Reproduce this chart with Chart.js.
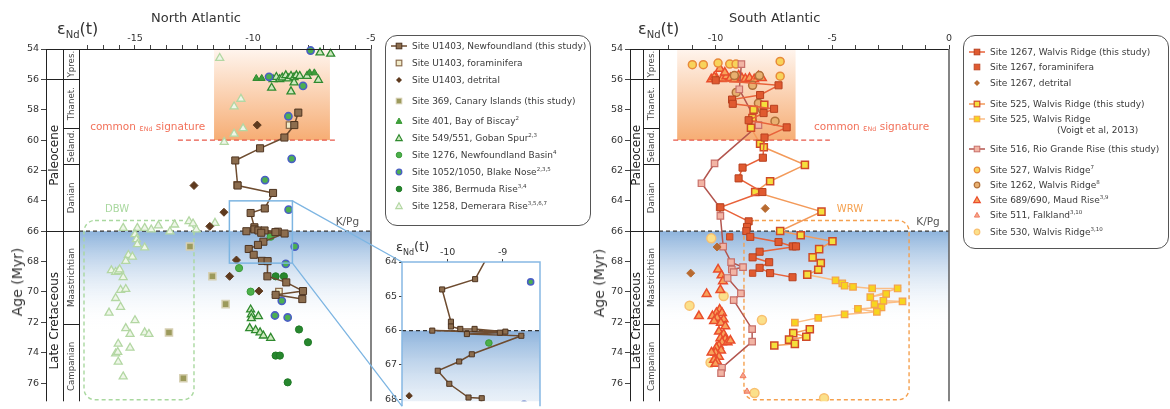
<!DOCTYPE html>
<html>
<head>
<meta charset="utf-8">
<script src="https://cdn.jsdelivr.net/npm/chart.js@4.4.0/dist/chart.umd.min.js"></script>
<style>
body { margin: 0; background: #fff; font-family: "DejaVu Sans", sans-serif; color: #333; }
#page { position: relative; width: 1170px; height: 409px; overflow: hidden; }
canvas { position: absolute; }
.txt { position: absolute; white-space: nowrap; }
.legend { position: absolute; border: 1px solid #555; border-radius: 12px; }
.row { position: absolute; white-space: nowrap; font-size: 9px; line-height: 10px; color: #3a3a3a; }
.row svg { position: absolute; left: -22px; top: 0; }
.row sup { font-size: 5.5px; vertical-align: 4px; line-height: 0; }
</style>
</head>
<body>
<div id="page">
  <canvas id="na" width="380" height="409" style="left:0;top:0"></canvas>
  <canvas id="inset" width="180" height="179" style="left:370px;top:230px"></canvas>
  <canvas id="sa" width="386" height="409" style="left:584px;top:0"></canvas>
  <canvas id="overlay" width="1170" height="409" style="left:0;top:0;pointer-events:none"></canvas>

  <div class="txt" style="left:151px;top:10px;font-size:13px">North Atlantic</div>
  <div class="txt" style="left:729px;top:10px;font-size:13px">South Atlantic</div>
  <div class="txt" style="left:57px;top:19px;font-size:16px">ε<sub style="font-size:10px">Nd</sub>(t)</div>
  <div class="txt" style="left:638px;top:19px;font-size:16px">ε<sub style="font-size:10px">Nd</sub>(t)</div>
  <div class="txt" style="left:396px;top:239px;font-size:13px">ε<sub style="font-size:8px">Nd</sub>(t)</div>
  <div class="txt" style="left:17px;top:282px;font-size:14px;transform:translate(-50%,-50%) rotate(-90deg)">Age (Myr)</div>
  <div class="txt" style="left:599px;top:283px;font-size:14px;transform:translate(-50%,-50%) rotate(-90deg)">Age (Myr)</div>

  <div class="legend" id="legNA" style="left:385px;top:35px;width:204px;height:189px"></div>
  <div class="legend" id="legSA" style="left:963px;top:35px;width:204px;height:212px"></div>
</div>

<script>
// ---------- North Atlantic (age in Myr, eNd(t)) ----------
const u1403Age = [58.19, 59.01, 59.83, 60.54, 61.34, 62.99, 63.48, 64.5, 64.8, 65.74, 65.88, 65.95, 65.95, 66.03, 66.0, 66.06, 66.1, 66.15, 66.69, 66.9, 67.17, 67.55, 67.95, 67.97, 68.97, 69.37, 69.94, 70.19, 70.47];
const u1403Nd = [-8.08, -8.25, -8.67, -9.7, -10.75, -10.65, -9.15, -9.5, -10.1, -9.94, -9.94, -9.77, -9.51, -8.95, -10.28, -9.05, -9.65, -8.66, -9.56, -9.79, -10.18, -9.97, -9.62, -9.38, -9.39, -8.59, -7.88, -9.04, -7.91];
const foramAge = [59.01, 62.95, 69.98];
const foramNd = [-8.45, -10.67, -8.9];
const detritalAge = [59.01, 62.99, 64.75, 65.68, 67.9, 68.97, 69.94];
const detritalNd = [-9.82, -12.5, -11.23, -11.83, -10.7, -10.99, -9.75];
const s369Age = [67.01, 68.97, 70.8, 72.67, 75.68];
const s369Nd = [-12.67, -11.72, -11.16, -13.56, -12.95];
const s401Age = [55.94, 55.94, 55.57, 55.57];
const s401Nd = [-9.86, -9.63, -7.6, -7.4];
const s549Age = [54.24, 54.32, 56.0, 55.85, 56.0, 55.89, 55.74, 55.95, 55.78, 55.87, 55.74, 55.78, 55.78, 56.04, 56.21, 56.56, 56.8, 71.16, 71.48, 71.74, 71.6, 72.39, 72.52, 72.67, 72.88, 73.03];
const s549Nd = [-7.16, -6.71, -9.15, -9.01, -8.87, -8.76, -8.61, -8.5, -8.39, -8.26, -8.16, -8.02, -7.71, -7.23, -8.26, -9.21, -8.39, -10.1, -10.07, -10.07, -9.77, -10.14, -9.89, -9.7, -9.56, -9.25];
const s1276Age = [66.36, 68.43, 69.98];
const s1276Nd = [-9.25, -10.59, -10.1];
const s1052Age = [54.1, 55.83, 56.43, 58.43, 61.23, 62.63, 64.58, 67.01, 68.15, 70.58, 71.55, 71.68];
const s1052Nd = [-7.56, -9.32, -7.88, -8.5, -8.36, -9.49, -8.49, -8.23, -8.61, -8.78, -9.07, -8.53];
const s386Age = [68.97, 68.97, 72.47, 73.31, 74.19, 74.19, 75.95];
const s386Nd = [-9.04, -8.69, -8.05, -7.67, -9.04, -8.86, -8.53];
const s1258Age = [54.6, 57.29, 57.79, 59.23, 59.59, 60.13, 65.79, 65.79, 65.79, 65.89, 65.63, 66.02, 65.57, 65.35, 65.5, 65.89, 65.46, 66.21, 66.54, 66.86, 67.08, 67.57, 67.68, 67.96, 68.58, 68.69, 68.65, 68.52, 69.03, 69.87, 69.81, 70.41, 70.99, 71.37, 71.87, 72.39, 72.77, 72.67, 72.77, 73.42, 73.68, 74.06, 73.96, 74.6, 75.57];
const s1258Nd = [-11.41, -10.51, -10.8, -10.42, -10.8, -11.22, -15.5, -14.9, -14.59, -14.31, -14.01, -13.52, -13.32, -12.71, -12.54, -12.4, -11.61, -15.0, -14.94, -14.9, -14.59, -15.28, -15.11, -15.39, -16.0, -15.82, -15.71, -15.65, -15.5, -15.61, -15.39, -15.82, -15.61, -16.1, -15.0, -15.39, -15.21, -14.59, -14.41, -15.71, -15.21, -15.82, -15.73, -15.71, -15.5];

// ---------- South Atlantic ----------
const s1267Age = [56.06, 56.39, 57.03, 57.33, 57.61, 57.94, 58.22, 58.69, 59.16, 59.83, 61.16, 61.81, 62.52, 63.42, 64.43, 65.35, 65.72, 65.99, 66.37, 66.71, 67.0, 67.0, 67.35, 67.72, 68.04, 68.41, 68.76, 69.03];
const s1267Nd = [-9.99, -7.3, -8.09, -9.29, -9.26, -7.49, -7.94, -8.58, -6.95, -7.9, -7.97, -8.84, -9.01, -7.99, -9.79, -8.58, -8.65, -8.68, -8.51, -7.3, -6.69, -6.55, -8.11, -8.41, -7.7, -8.11, -7.66, -6.7];
const f1267Age = [66.37, 68.76];
const f1267Nd = [-9.39, -8.41];
const d1267Age = [64.5, 67.04, 68.76];
const d1267Nd = [-7.87, -9.93, -11.06];
const s525Age = [57.68, 58.0, 58.54, 59.19, 60.24, 60.47, 61.63, 62.71, 63.42, 64.71, 65.99, 66.26, 66.66, 67.18, 67.72, 68.09, 68.54, 68.86];
const s525Nd = [-7.91, -8.37, -8.42, -8.48, -8.09, -7.93, -6.17, -7.66, -8.3, -5.46, -7.23, -6.35, -4.99, -5.56, -5.84, -5.49, -5.6, -6.07];
const s525bAge = [72.45, 72.71, 72.95, 73.14, 73.42, 73.53];
const s525bNd = [-5.96, -6.67, -6.11, -6.85, -6.6, -7.48];
const voigtAge = [68.86, 69.23, 69.44, 69.59, 69.66, 69.77, 69.77, 70.34, 70.13, 70.58, 70.62, 70.8, 71.01, 71.12, 71.31, 71.48, 71.7, 72.02];
const voigtNd = [-6.07, -4.86, -4.57, -4.47, -4.11, -3.29, -2.2, -3.37, -2.69, -2.81, -1.99, -3.19, -2.89, -3.9, -3.09, -4.47, -5.6, -6.6];
const s516Age = [54.99, 56.65, 59.01, 61.53, 62.84, 64.43, 64.99, 67.01, 68.04, 68.37, 68.52, 68.69, 69.08, 70.09, 70.54, 72.45, 73.27, 74.99, 75.35];
const s516Nd = [-8.89, -8.98, -8.16, -10.04, -10.6, -9.82, -9.79, -9.67, -9.33, -8.82, -9.3, -9.22, -9.48, -8.91, -9.22, -8.43, -8.43, -9.72, -9.76];
const s527Age = [55.03, 55.03, 54.93, 54.99, 54.99, 54.82, 55.79];
const s527Nd = [-10.99, -10.52, -9.89, -9.39, -9.12, -7.23, -7.23];
const s1262Age = [55.75, 55.75, 56.39, 56.86, 57.57, 58.0, 58.75];
const s1262Nd = [-8.12, -9.19, -8.41, -9.11, -8.16, -7.99, -7.45];
const s689Age = [56.0, 55.91, 55.97, 55.8, 55.91, 56.0, 55.74, 55.91, 55.97, 55.91, 56.0, 55.8, 55.91, 55.3, 55.55, 55.85, 68.52, 68.9, 69.29, 69.87, 70.13, 71.59, 71.16, 71.38, 71.38, 71.59, 71.7, 71.8, 71.92, 72.03, 72.25, 72.61, 72.78, 73.04, 73.1, 73.31, 73.53, 73.31, 73.2, 73.68, 73.85, 74.0, 73.98, 74.26, 74.47, 74.58, 74.73];
const s689Nd = [-10.18, -9.96, -9.72, -9.53, -9.36, -9.19, -9.01, -8.87, -8.72, -8.54, -8.34, -8.16, -8.01, -9.81, -9.6, -10.05, -9.89, -9.74, -9.68, -9.79, -10.38, -10.71, -9.82, -9.96, -9.72, -10.13, -9.93, -9.65, -10.06, -9.77, -9.58, -9.85, -9.65, -9.79, -9.58, -9.72, -9.85, -9.48, -9.36, -9.96, -9.76, -10.0, -10.17, -9.85, -10.06, -9.93, -10.0];
const s511Age = [75.53, 76.55];
const s511Nd = [-8.82, -8.65];
const s530Age = [66.47, 70.26, 70.9, 71.85, 74.65, 76.65, 77.0];
const s530Nd = [-10.18, -9.65, -11.11, -8.01, -10.21, -8.33, -5.35];

// tick labels
const ageTicks = [54, 56, 58, 60, 62, 64, 66, 68, 70, 72, 74, 76];
const insetAgeTicks = [64, 65, 66, 67, 68];
const naLabels = [-15, -10, -5];
const saLabels = [-10, -5, 0];
const insetLabels = [-10, -9];

// time scale
const epochs = [{ from: 56, to: 66, name: 'Paleocene' }, { from: 66, to: 77.8, name: 'Late Cretaceous' }];
const stages = [
  { from: 54, to: 56, name: 'Ypres.' }, { from: 56, to: 59.2, name: 'Thanet.' },
  { from: 59.2, to: 61.6, name: 'Seland.' }, { from: 61.6, to: 66, name: 'Danian' },
  { from: 66, to: 72.1, name: 'Maastrichtian' }, { from: 72.1, to: 77.7, name: 'Campanian' }
];

Chart.defaults.font.family = '"DejaVu Sans", sans-serif';
Chart.defaults.color = '#333';

function series(ages, nds, st) {
  return {
    data: ages.map((a, i) => ({ x: nds[i], y: a })),
    showLine: !!st.line,
    borderColor: st.line || st.stroke,
    borderWidth: st.lw || 1.4,
    pointStyle: st.shape,
    pointRadius: st.r,
    pointBackgroundColor: st.fill,
    pointBorderColor: st.stroke,
    pointBorderWidth: st.bw || 1,
    clip: st.clip === undefined ? { left: 0, top: 6, right: 6, bottom: 0 } : st.clip
  };
}

function roundRectPath(ctx, x, y, w, h, r) {
  ctx.beginPath();
  ctx.moveTo(x + r, y);
  ctx.lineTo(x + w - r, y); ctx.arcTo(x + w, y, x + w, y + r, r);
  ctx.lineTo(x + w, y + h - r); ctx.arcTo(x + w, y + h, x + w - r, y + h, r);
  ctx.lineTo(x + r, y + h); ctx.arcTo(x, y + h, x, y + h - r, r);
  ctx.lineTo(x, y + r); ctx.arcTo(x, y, x + r, y, r);
  ctx.closePath();
}

function endText(ctx, x, y, pre, post, size, color) {
  ctx.fillStyle = color; ctx.textBaseline = 'middle'; ctx.textAlign = 'left';
  ctx.font = size + 'px "DejaVu Sans"'; ctx.fillText(pre, x, y); x += ctx.measureText(pre).width;
  ctx.font = (size * 0.8) + 'px "DejaVu Sans"'; ctx.fillText('ε', x, y + 1); x += ctx.measureText('ε').width;
  ctx.font = (size * 0.6) + 'px "DejaVu Sans"'; ctx.fillText('Nd', x, y + 2); x += ctx.measureText('Nd').width;
  ctx.font = size + 'px "DejaVu Sans"'; ctx.fillText(post, x, y);
}

const deco = {
  id: 'deco',
  beforeDatasetsDraw(chart, args, o) {
    const { ctx, chartArea: a, scales: { x, y } } = chart;
    const pl = a.left + o.colW[1];
    ctx.save();
    ctx.beginPath(); ctx.rect(pl, a.top, a.right - pl, a.bottom - a.top); ctx.clip();
    if (o.orange) {
      const [e0, e1, t0, t1] = o.orange;
      const y0 = y.getPixelForValue(t0), y1 = y.getPixelForValue(t1);
      const g = ctx.createLinearGradient(0, y0, 0, y1);
      g.addColorStop(0, '#fff5ee'); g.addColorStop(1, '#f6ad74');
      ctx.fillStyle = g;
      ctx.fillRect(x.getPixelForValue(e0), y0, x.getPixelForValue(e1) - x.getPixelForValue(e0), y1 - y0);
    }
    if (o.blue) {
      const y0 = y.getPixelForValue(o.blue[0]), y1 = y.getPixelForValue(o.blue[1]);
      const g = ctx.createLinearGradient(0, y0, 0, y1);
      g.addColorStop(0, '#8db3dc'); g.addColorStop(1, 'rgba(255,255,255,0)');
      ctx.fillStyle = g;
      ctx.fillRect(pl, y0, a.right - pl, y1 - y0);
    }
    if (o.redLine) {
      const [e0, e1, t] = o.redLine, yy = y.getPixelForValue(t);
      ctx.strokeStyle = '#e8584a'; ctx.lineWidth = 1.3; ctx.setLineDash([5, 3]);
      ctx.beginPath(); ctx.moveTo(x.getPixelForValue(e0), yy); ctx.lineTo(x.getPixelForValue(e1), yy); ctx.stroke();
    }
    if (o.common) {
      endText(ctx, x.getPixelForValue(o.common[0]), y.getPixelForValue(o.common[1]), 'common ', ' signature', 10.5, '#f2715a');
    }
    if (o.box) {
      const b = o.box;
      const x0 = x.getPixelForValue(b.x0), x1 = x.getPixelForValue(b.x1);
      const y0 = y.getPixelForValue(b.y0), y1 = y.getPixelForValue(b.y1);
      ctx.strokeStyle = b.color; ctx.lineWidth = 1.4; ctx.setLineDash([4, 3]);
      roundRectPath(ctx, x0, y0, x1 - x0, y1 - y0, 11); ctx.stroke();
      ctx.setLineDash([]);
      ctx.fillStyle = b.color; ctx.font = '10px "DejaVu Sans"'; ctx.textAlign = 'center'; ctx.textBaseline = 'middle';
      ctx.fillText(b.label, x.getPixelForValue(b.lx), y.getPixelForValue(b.ly));
    }
    if (o.kpg) {
      const yy = y.getPixelForValue(66);
      ctx.strokeStyle = '#333'; ctx.lineWidth = 1.2; ctx.setLineDash([4, 3]);
      ctx.beginPath(); ctx.moveTo(pl, yy); ctx.lineTo(a.right, yy); ctx.stroke();
      ctx.setLineDash([]);
      if (o.kpg.length) {
        ctx.fillStyle = '#555'; ctx.font = '10.5px "DejaVu Sans"'; ctx.textAlign = 'center'; ctx.textBaseline = 'middle';
        ctx.fillText('K/Pg', x.getPixelForValue(o.kpg[0]), y.getPixelForValue(o.kpg[1]));
      }
    }
    ctx.restore();
  },
  afterDatasetsDraw(chart, args, o) {
    const { ctx, chartArea: a, scales: { x, y } } = chart;
    const c1 = a.left + o.colW[0], pl = a.left + o.colW[1];
    ctx.save();
    if (o.zoom) {
      const [e0, e1, t0, t1] = o.zoom;
      ctx.strokeStyle = '#7db5e2'; ctx.lineWidth = 1.5;
      ctx.strokeRect(x.getPixelForValue(e0), y.getPixelForValue(t0), x.getPixelForValue(e1) - x.getPixelForValue(e0), y.getPixelForValue(t1) - y.getPixelForValue(t0));
    }
    if (o.frame === 'inset') {
      ctx.strokeStyle = '#86b8e3'; ctx.lineWidth = 1.5;
      ctx.beginPath(); ctx.moveTo(a.left, a.bottom + 5); ctx.lineTo(a.left, a.top); ctx.lineTo(a.right, a.top); ctx.lineTo(a.right, a.bottom + 5); ctx.stroke();
      ctx.restore();
      return;
    }
    // time scale columns
    ctx.fillStyle = '#fff';
    ctx.fillRect(a.left, a.top, o.colW[1], a.bottom - a.top);
    ctx.strokeStyle = '#222'; ctx.lineWidth = 1;
    ctx.beginPath();
    [a.left, c1, pl].forEach(px => { ctx.moveTo(px + 0.5, a.top); ctx.lineTo(px + 0.5, a.bottom); });
    ctx.moveTo(a.left, a.top + 0.5); ctx.lineTo(a.right, a.top + 0.5);
    [56, 66].forEach(t => { const yy = Math.round(y.getPixelForValue(t)) + 0.5; ctx.moveTo(a.left, yy); ctx.lineTo(pl, yy); });
    [59.2, 61.6, 72.1].forEach(t => { const yy = Math.round(y.getPixelForValue(t)) + 0.5; ctx.moveTo(c1, yy); ctx.lineTo(pl, yy); });
    ctx.stroke();
    ctx.strokeStyle = '#666'; ctx.lineWidth = 1.6;
    ctx.beginPath(); ctx.moveTo(a.right, a.top); ctx.lineTo(a.right, a.bottom); ctx.stroke();
    ctx.textAlign = 'center'; ctx.textBaseline = 'middle';
    epochs.forEach(ep => {
      const cy = (y.getPixelForValue(ep.from) + y.getPixelForValue(ep.to)) / 2;
      ctx.save(); ctx.translate((a.left + c1) / 2 + 0.5, cy); ctx.rotate(-Math.PI / 2);
      ctx.fillStyle = '#222'; ctx.font = '12px "DejaVu Sans"'; ctx.fillText(ep.name, 0, 0); ctx.restore();
    });
    stages.forEach(st => {
      const cy = (y.getPixelForValue(st.from) + y.getPixelForValue(st.to)) / 2;
      ctx.save(); ctx.translate((c1 + pl) / 2 + 0.5, cy); ctx.rotate(-Math.PI / 2);
      ctx.fillStyle = '#444'; ctx.font = '8.7px "DejaVu Sans"'; ctx.fillText(st.name, 0, 0); ctx.restore();
    });
    ctx.restore();
  }
};

function axes(xMin, xMax, xTicks, xLabels, yMin, yMax, yTicks, xh, yw, tl) {
  return {
    x: {
      type: 'linear', position: 'top', min: xMin, max: xMax,
      afterFit: s => { s.height = xh; },
      afterBuildTicks: s => {
        const t = xTicks.slice();
        xLabels.forEach(v => { if (!t.some(u => Math.abs(u - v) < 1e-6)) t.push(v); });
        t.sort((p, q) => p - q);
        s.ticks = t.map(v => ({ value: v }));
      },
      ticks: {
        autoSkip: false, maxRotation: 0, padding: 1, color: '#333', font: { size: 9.5 },
        callback: v => xLabels.some(u => Math.abs(u - v) < 1e-6) ? String(Math.round(v)) : ''
      },
      grid: {
        drawOnChartArea: false, tickLength: tl || 4, tickWidth: 1,
        tickColor: c => (c.tick && xTicks.some(u => Math.abs(u - c.tick.value) < 1e-6)) ? '#444' : 'rgba(0,0,0,0)'
      },
      border: { display: false }
    },
    y: {
      type: 'linear', reverse: true, min: yMin, max: yMax,
      afterFit: s => { s.width = yw; },
      afterBuildTicks: s => { s.ticks = yTicks.map(v => ({ value: v })); },
      ticks: { autoSkip: false, padding: 2, color: '#333', font: { size: 9.5 } },
      grid: { drawOnChartArea: false, tickLength: tl ? tl : 5, tickColor: '#444' },
      border: { display: false }
    }
  };
}

function baseOptions(sc, pad, decoOpts) {
  return {
    responsive: false, animation: false, devicePixelRatio: 1,
    layout: { padding: pad },
    plugins: { legend: { display: false }, tooltip: { enabled: false }, deco: decoOpts },
    scales: sc
  };
}

// styles
const stU1403 = { line: '#6e4c30', lw: 1.5, shape: 'rect', r: 5, fill: '#8c6d4e', stroke: '#4e3420' };
const stForam = { shape: 'rect', r: 4.6, fill: '#f1ebc9', stroke: '#8c6d4e', bw: 1.3 };
const stDetr = { shape: 'rectRot', r: 4, fill: '#5e3a1e', stroke: '#5e3a1e' };
const st369 = { shape: 'rect', r: 5, fill: '#9c9a5c', stroke: '#d6d0b2', bw: 1.5 };
const st401 = { shape: 'triangle', r: 4, fill: '#3e9e3a', stroke: '#2f8a2f' };
const st549 = { shape: 'triangle', r: 4.6, fill: '#cde8be', stroke: '#2f8a2f', bw: 1.3 };
const st1276 = { shape: 'circle', r: 3.6, fill: '#4db04a', stroke: '#3a9a3a' };
const st1052 = { shape: 'circle', r: 3.6, fill: '#4caf50', stroke: '#4a5fc4', bw: 1.6 };
const st386 = { shape: 'circle', r: 3.6, fill: '#27872e', stroke: '#1f7a26' };
const st1258 = { shape: 'triangle', r: 4.6, fill: '#eef6e8', stroke: '#b3d7a3', bw: 1.3 };

const st1267 = { line: '#e8623a', lw: 1.5, shape: 'rect', r: 5, fill: '#e05a30', stroke: '#b8401f' };
const stF1267 = { shape: 'rect', r: 4.5, fill: '#e05a30', stroke: '#c04a28' };
const stD1267 = { shape: 'rectRot', r: 4, fill: '#b86a30', stroke: '#b86a30' };
const st525 = { line: '#f39a5a', lw: 1.5, shape: 'rect', r: 5, fill: '#f5df3c', stroke: '#d04a28', bw: 1.5 };
const stVoigt = { line: '#fbbd85', lw: 1.5, shape: 'rect', r: 4.6, fill: '#f7d51e', stroke: '#f3a14f', bw: 1.2 };
const st516 = { line: '#b3564f', lw: 1.5, shape: 'rect', r: 4.6, fill: '#f2b4a4', stroke: '#c8706a', bw: 1.2 };
const st527 = { shape: 'circle', r: 4, fill: '#f8d35a', stroke: '#e88a3a', bw: 1.5 };
const st1262 = { shape: 'circle', r: 4, fill: '#e8b070', stroke: '#b0703a', bw: 1.5 };
const st689 = { shape: 'triangle', r: 5, fill: '#f7a25b', stroke: '#ea4d2c', bw: 1.5 };
const st511 = { shape: 'triangle', r: 3.5, fill: '#f5a58a', stroke: '#f07a60' };
const st530 = { shape: 'circle', r: 4.5, fill: '#fbe08a', stroke: '#f8c070', bw: 1.5 };

// ---------- North Atlantic chart ----------
const naTicks = [];
for (let v = -5; v > -17.3; v -= 2 / 3) naTicks.push(v);
const zoomBox = [-11.0, -8.33, 64, 68.1];
const naChart = new Chart(document.getElementById('na'), {
  type: 'scatter',
  data: {
    datasets: [
      series(u1403Age, u1403Nd, stU1403),
      series(foramAge, foramNd, stForam),
      series(detritalAge, detritalNd, stDetr),
      series(s369Age, s369Nd, st369),
      series(s1052Age, s1052Nd, st1052),
      series(s1276Age, s1276Nd, st1276),
      series(s386Age, s386Nd, st386),
      series(s401Age, s401Nd, st401),
      series(s549Age, s549Nd, st549),
      series(s1258Age, s1258Nd, st1258)
    ]
  },
  options: baseOptions(
    axes(-18.77, -5, naTicks, naLabels, 54, 77.2, ageTicks, 49, 46),
    { left: 0, right: 9, top: 0, bottom: 0 },
    {
      colW: [17, 33],
      orange: [-11.65, -6.74, 54, 60],
      redLine: [-13.18, -6.53, 60],
      common: [-16.9, 59.18],
      blue: [66, 72.5],
      kpg: [-6.0, 65.42],
      box: { x0: -17.16, x1: -12.5, y0: 65.29, y1: 77.1, color: '#a9d89f', label: 'DBW', lx: -15.76, ly: 64.58 },
      zoom: zoomBox
    }
  ),
  plugins: [deco]
});

// ---------- inset ----------
const insetChart = new Chart(document.getElementById('inset'), {
  type: 'scatter',
  data: {
    datasets: [
      series(u1403Age, u1403Nd, Object.assign({}, stU1403, { r: 3.6, clip: 0 })),
      series(detritalAge, detritalNd, Object.assign({}, stDetr, { r: 3.2, clip: 0 })),
      series(s1052Age, s1052Nd, Object.assign({}, st1052, { r: 3, clip: 0 })),
      series(s1276Age, s1276Nd, Object.assign({}, st1276, { r: 3.3, clip: 0 }))
    ]
  },
  options: baseOptions(
    axes(-10.83, -8.32, insetLabels, insetLabels, 64, 68.06, insetAgeTicks, 32, 32, 3),
    { left: 0, right: 10, top: 0, bottom: 0 },
    { colW: [0, 0], blue: [66, 69.6], kpg: [], frame: 'inset' }
  ),
  plugins: [deco]
});

// ---------- South Atlantic chart ----------
const saTicks = [];
for (let v = 0; v >= -12; v -= 1) saTicks.push(v);
const saChart = new Chart(document.getElementById('sa'), {
  type: 'scatter',
  data: {
    datasets: [
      series(s1267Age, s1267Nd, st1267),
      series(f1267Age, f1267Nd, stF1267),
      series(d1267Age, d1267Nd, stD1267),
      series(s525Age, s525Nd, st525),
      series(s525bAge, s525bNd, st525),
      series(s516Age, s516Nd, st516),
      series(voigtAge, voigtNd, stVoigt),
      series(s1262Age, s1262Nd, st1262),
      series(s527Age, s527Nd, st527),
      series(s689Age, s689Nd, st689),
      series(s511Age, s511Nd, st511),
      series(s530Age, s530Nd, st530)
    ]
  },
  options: baseOptions(
    axes(-13.66, 0, saTicks, saLabels, 54, 77.2, ageTicks, 49, 46),
    { left: 0, right: 21, top: 0, bottom: 0 },
    {
      colW: [13, 29],
      orange: [-11.64, -6.57, 54, 60],
      redLine: [-11.81, -5.1, 60],
      common: [-5.78, 59.18],
      blue: [66, 72.5],
      kpg: [-0.9, 65.42],
      box: { x0: -8.78, x1: -1.71, y0: 65.29, y1: 77.1, color: '#f5a04e', label: 'WRW', lx: -4.24, ly: 64.58 }
    }
  ),
  plugins: [deco]
});

// ---------- connector lines from zoom box to inset ----------
(function () {
  const octx = document.getElementById('overlay').getContext('2d');
  const nx = naChart.scales.x, ny = naChart.scales.y;
  const ia = insetChart.chartArea, iy = insetChart.scales.y;
  const rx = nx.getPixelForValue(zoomBox[1]);
  octx.strokeStyle = '#7db5e2'; octx.lineWidth = 1.3;
  octx.beginPath();
  octx.moveTo(rx, ny.getPixelForValue(zoomBox[2])); octx.lineTo(370 + ia.left, 230 + ia.top);
  octx.moveTo(rx, ny.getPixelForValue(zoomBox[3])); octx.lineTo(370 + ia.left, 230 + iy.getPixelForValue(68.2));
  octx.stroke();
})();

// ---------- legends ----------
function marker(m) {
  let s = '<svg width="18" height="10" viewBox="0 0 18 10">';
  if (m.line) s += '<line x1="1" y1="5" x2="17" y2="5" stroke="' + m.line + '" stroke-width="1.5"/>';
  const r = m.size || 2.8, f = m.fill, k = m.stroke, w = m.sw || 1;
  if (m.shape === 'rect') s += '<rect x="' + (9 - r) + '" y="' + (5 - r) + '" width="' + 2 * r + '" height="' + 2 * r + '" fill="' + f + '" stroke="' + k + '" stroke-width="' + w + '"/>';
  if (m.shape === 'circle') s += '<circle cx="9" cy="5" r="' + r + '" fill="' + f + '" stroke="' + k + '" stroke-width="' + w + '"/>';
  if (m.shape === 'tri') s += '<polygon points="9,' + (5 - r) + ' ' + (9 + r) + ',' + (5 + r * 0.8) + ' ' + (9 - r) + ',' + (5 + r * 0.8) + '" fill="' + f + '" stroke="' + k + '" stroke-width="' + w + '"/>';
  if (m.shape === 'dia') s += '<polygon points="9,' + (5 - r) + ' ' + (9 + r) + ',5 9,' + (5 + r) + ' ' + (9 - r) + ',5" fill="' + f + '"/>';
  return s + '</svg>';
}

const naLegend = [
  { y: 46, t: 'Site U1403, Newfoundland (this study)', m: { line: '#6e4c30', shape: 'rect', fill: '#8c6d4e', stroke: '#4e3420' } },
  { y: 63, t: 'Site U1403, foraminifera', m: { shape: 'rect', fill: '#f1ebc9', stroke: '#8c6d4e', sw: 1.2 } },
  { y: 80, t: 'Site U1403, detrital', m: { shape: 'dia', size: 3, fill: '#5e3a1e' } },
  { y: 101, t: 'Site 369, Canary Islands (this study)', m: { shape: 'rect', fill: '#9c9a5c', stroke: '#d6d0b2' } },
  { y: 121, t: 'Site 401, Bay of Biscay<sup>2</sup>', m: { shape: 'tri', size: 3, fill: '#3e9e3a', stroke: '#3e9e3a' } },
  { y: 138, t: 'Site 549/551, Goban Spur<sup>2,3</sup>', m: { shape: 'tri', size: 3.2, fill: '#cde8be', stroke: '#2f8a2f', sw: 1.2 } },
  { y: 155, t: 'Site 1276, Newfoundland Basin<sup>4</sup>', m: { shape: 'circle', fill: '#4db04a', stroke: '#3a9a3a' } },
  { y: 172, t: 'Site 1052/1050, Blake Nose<sup>2,3,5</sup>', m: { shape: 'circle', fill: '#4caf50', stroke: '#4a5fc4', sw: 1.3 } },
  { y: 189, t: 'Site 386, Bermuda Rise<sup>3,4</sup>', m: { shape: 'circle', fill: '#27872e', stroke: '#1f7a26' } },
  { y: 206, t: 'Site 1258, Demerara Rise<sup>3,5,6,7</sup>', m: { shape: 'tri', size: 3.2, fill: '#eef6e8', stroke: '#b3d7a3', sw: 1.2 } }
];
const saLegend = [
  { y: 51.5, t: 'Site 1267, Walvis Ridge (this study)', m: { line: '#e8623a', shape: 'rect', fill: '#e05a30', stroke: '#b8401f' } },
  { y: 67, t: 'Site 1267, foraminifera', m: { shape: 'rect', fill: '#e05a30', stroke: '#c04a28' } },
  { y: 82.5, t: 'Site 1267, detrital', m: { shape: 'dia', size: 3, fill: '#b86a30' } },
  { y: 104, t: 'Site 525, Walvis Ridge (this study)', m: { line: '#f39a5a', shape: 'rect', fill: '#f5df3c', stroke: '#d04a28', sw: 1.2 } },
  { y: 118.5, t: 'Site 525, Walvis Ridge', m: { line: '#fbbd85', shape: 'rect', fill: '#f7d51e', stroke: '#f3a14f' } },
  { y: 129.5, t: '(Voigt et al, 2013)', indent: 67 },
  { y: 148.5, t: 'Site 516, Rio Grande Rise (this study)', m: { line: '#b3564f', shape: 'rect', fill: '#f2b4a4', stroke: '#c8706a' } },
  { y: 170, t: 'Site 527, Walvis Ridge<sup>7</sup>', m: { shape: 'circle', fill: '#f8d35a', stroke: '#e88a3a', sw: 1.2 } },
  { y: 185, t: 'Site 1262, Walvis Ridge<sup>8</sup>', m: { shape: 'circle', fill: '#e8b070', stroke: '#b0703a', sw: 1.2 } },
  { y: 200, t: 'Site 689/690, Maud Rise<sup>3,9</sup>', m: { shape: 'tri', size: 3.3, fill: '#f7a25b', stroke: '#ea4d2c', sw: 1.2 } },
  { y: 215, t: 'Site 511, Falkland<sup>3,10</sup>', m: { shape: 'tri', size: 2.6, fill: '#f5a58a', stroke: '#f07a60' } },
  { y: 232, t: 'Site 530, Walvis Ridge<sup>3,10</sup>', m: { shape: 'circle', fill: '#fbe08a', stroke: '#f8c070', sw: 1.2 } }
];

function buildLegend(items, textLeft) {
  const page = document.getElementById('page');
  items.forEach(it => {
    const d = document.createElement('div');
    d.className = 'row';
    d.style.left = (textLeft + (it.indent || 0)) + 'px';
    d.style.top = (it.y - 5) + 'px';
    d.innerHTML = (it.m ? marker(it.m) : '') + it.t;
    page.appendChild(d);
  });
}
buildLegend(naLegend, 412);
buildLegend(saLegend, 990);
</script>
</body>
</html>
